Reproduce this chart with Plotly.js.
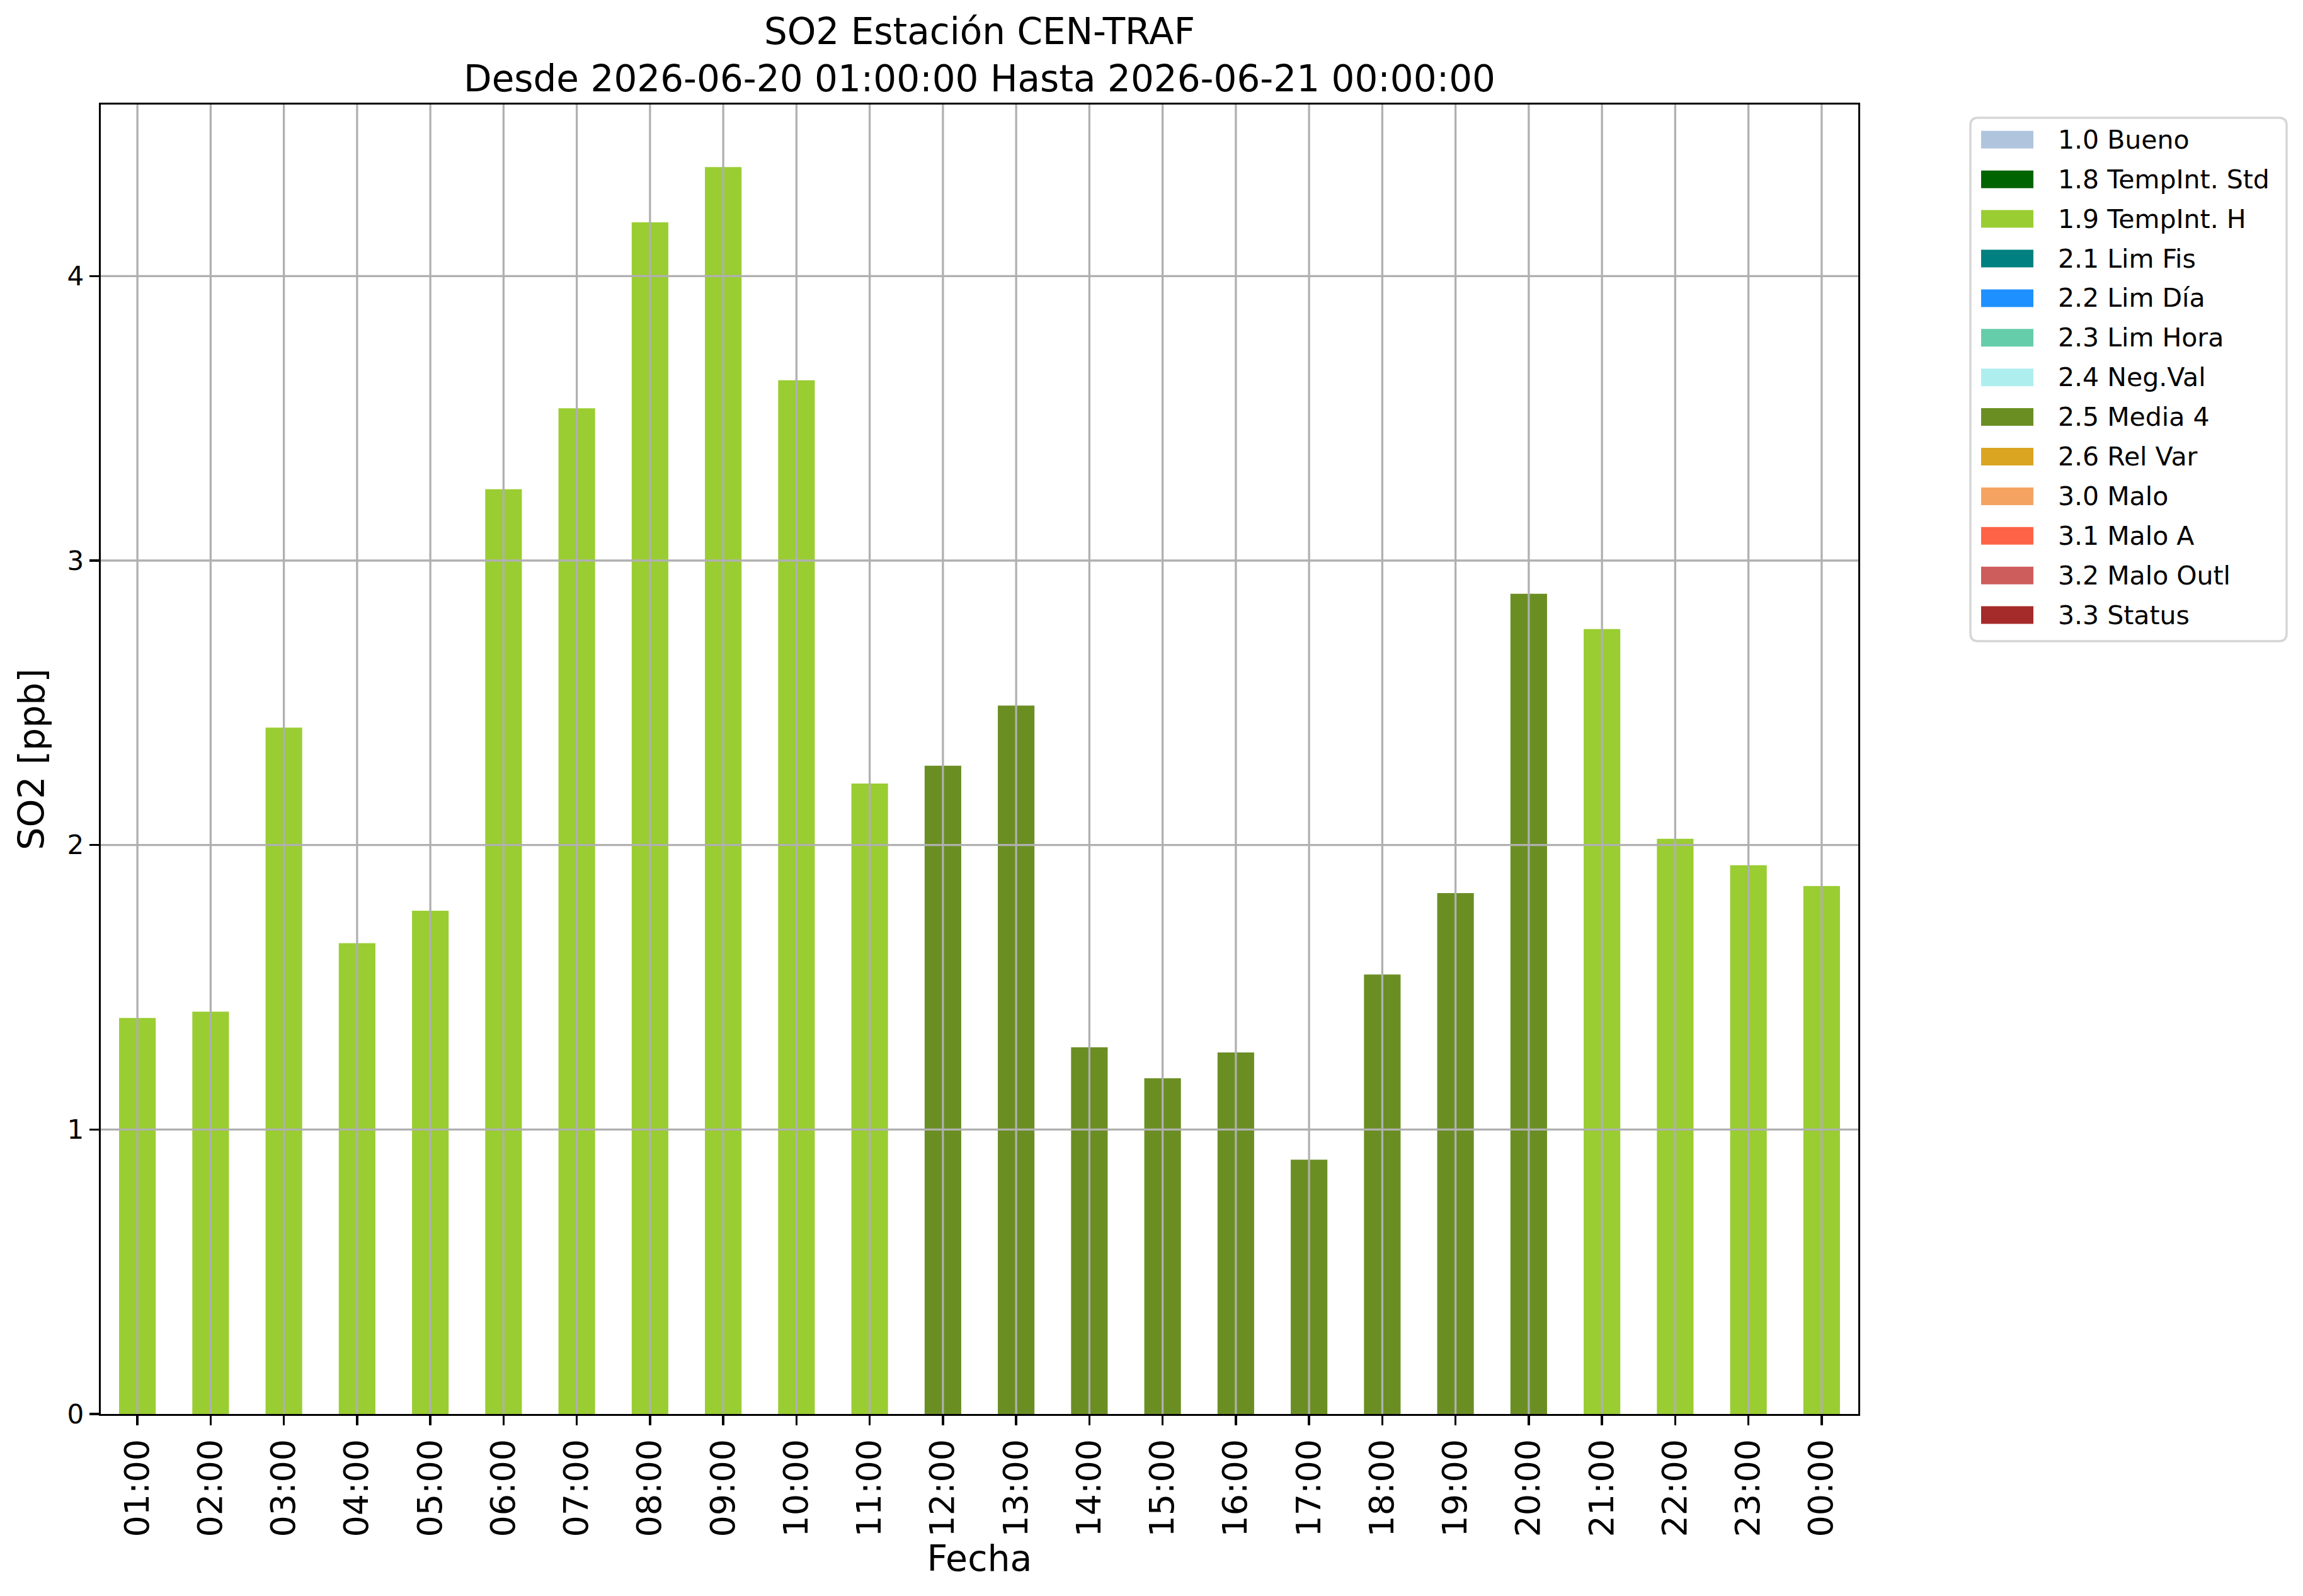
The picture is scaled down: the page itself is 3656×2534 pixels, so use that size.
<!DOCTYPE html>
<html>
<head>
<meta charset="utf-8">
<script src="https://cdn.plot.ly/plotly-3.0.1.min.js"></script>
<style>html,body{margin:0;padding:0;background:#fff;}#chart{width:3656px;height:2534px;}</style>
</head>
<body>
<div id="chart"></div>
<script>
// ---- data ----
const hours = ['01:00','02:00','03:00','04:00','05:00','06:00','07:00','08:00','09:00','10:00','11:00','12:00',
               '13:00','14:00','15:00','16:00','17:00','18:00','19:00','20:00','21:00','22:00','23:00','00:00'];
const so2 = [1.392,1.414,2.413,1.655,1.769,3.251,3.535,4.189,4.383,3.634,2.216,2.279,
             2.490,1.289,1.180,1.271,0.894,1.545,1.831,2.883,2.759,2.022,1.929,1.856];
const flags = ['1.9','1.9','1.9','1.9','1.9','1.9','1.9','1.9','1.9','1.9','1.9','2.5',
               '2.5','2.5','2.5','2.5','2.5','2.5','2.5','2.5','1.9','1.9','1.9','1.9'];
const flagCodes = ['1.0','1.8','1.9','2.1','2.2','2.3','2.4','2.5','2.6','3.0','3.1','3.2','3.3'];
const flagLabels = ['1.0 Bueno','1.8 TempInt. Std','1.9 TempInt. H','2.1 Lim Fis','2.2 Lim Día','2.3 Lim Hora',
                    '2.4 Neg.Val','2.5 Media 4','2.6 Rel Var','3.0 Malo','3.1 Malo A','3.2 Malo Outl','3.3 Status'];
const flagColors = ['#B0C4DE','#006400','#9ACD32','#008080','#1E90FF','#66CDAA','#AFEEEE','#6B8E23',
                    '#DAA520','#F4A460','#FF6347','#CD5C5C','#A52A2A'];
const yTicks = [0,1,2,3,4];
const titleText = 'SO2 Estación CEN-TRAF<br>Desde 2026-06-20 01:00:00 Hasta 2026-06-21 00:00:00';

// ---- geometry of the plot area (pixels) ----
const W = 3656, H = 2534;
const L = 160, R = 2950, T = 166, B = 2245;
const PW = R - L, PH = B - T;
const px = v => (v - L) / PW;
const py = v => (B - v) / PH;
const FONT = 'DejaVu Sans, Verdana, sans-serif';
const GRID = '#b0b0b0';

// ---- traces: one per flag ----
const traces = flagCodes.map((code, k) => ({
  type: 'bar',
  name: flagLabels[k],
  x: hours,
  y: so2.map((v, i) => flags[i] === code ? v : null),
  width: 0.5,
  marker: {color: flagColors[k], line: {width: 0}},
  showlegend: false,
  hoverinfo: 'x+y+name'
}));

// ---- grid lines drawn above bars (matplotlib style) ----
const shapes = [];
hours.forEach(h => shapes.push({type: 'line', xref: 'x', yref: 'paper', x0: h, x1: h, y0: 0, y1: 1,
  line: {color: GRID, width: 3.3}, layer: 'above'}));
yTicks.filter(t => t > 0).forEach(t => shapes.push({type: 'line', xref: 'paper', yref: 'y', x0: 0, x1: 1, y0: t, y1: t,
  line: {color: GRID, width: 3.3}, layer: 'above'}));

// ---- legend box ----
const bx0 = 3128, bx1 = 3630, by0 = 187, by1 = 1018, rr = 12;
const path = 'M' + px(bx0 + rr) + ',' + py(by0) +
  ' L' + px(bx1 - rr) + ',' + py(by0) +
  ' Q' + px(bx1) + ',' + py(by0) + ' ' + px(bx1) + ',' + py(by0 + rr) +
  ' L' + px(bx1) + ',' + py(by1 - rr) +
  ' Q' + px(bx1) + ',' + py(by1) + ' ' + px(bx1 - rr) + ',' + py(by1) +
  ' L' + px(bx0 + rr) + ',' + py(by1) +
  ' Q' + px(bx0) + ',' + py(by1) + ' ' + px(bx0) + ',' + py(by1 - rr) +
  ' L' + px(bx0) + ',' + py(by0 + rr) +
  ' Q' + px(bx0) + ',' + py(by0) + ' ' + px(bx0 + rr) + ',' + py(by0) + ' Z';
shapes.push({type: 'path', xref: 'paper', yref: 'paper', path: path,
  line: {color: '#d6d6d6', width: 3.5}, fillcolor: 'rgba(255,255,255,0.8)', layer: 'above'});

const annotations = [];
const rowY0 = 221.8, rowStep = 62.9;
flagLabels.forEach((lab, i) => {
  const cy = rowY0 + i * rowStep;
  shapes.push({type: 'rect', xref: 'paper', yref: 'paper',
    x0: px(3145), x1: px(3228), y0: py(cy + 14), y1: py(cy - 14),
    fillcolor: flagColors[i], line: {width: 0}, layer: 'above'});
  annotations.push({xref: 'paper', yref: 'paper', x: px(3265), y: py(cy), xanchor: 'left', yanchor: 'middle',
    text: lab, showarrow: false, font: {family: FONT, size: 41, color: '#000'}});
});

const layout = {
  width: W, height: H,
  margin: {l: L, r: W - R, t: T, b: H - B, pad: 0},
  paper_bgcolor: '#fff', plot_bgcolor: '#fff',
  font: {family: FONT, color: '#000'},
  barmode: 'overlay',
  showlegend: false,
  title: {text: titleText, font: {family: FONT, size: 58, color: '#000'},
          xref: 'paper', x: 0.5, xanchor: 'center', yref: 'container', y: 1 - 70 / H, yanchor: 'top'},
  xaxis: {
    type: 'category', categoryorder: 'array', categoryarray: hours, range: [-0.5, hours.length - 0.5],
    tickangle: -90, tickfont: {family: FONT, size: 54, color: '#000'},
    ticks: 'outside', ticklen: 15, tickwidth: 3.3, tickcolor: '#000',
    showline: true, linecolor: '#000', linewidth: 3.3, mirror: true,
    showgrid: false, zeroline: false, automargin: false, fixedrange: true,
    title: {text: 'Fecha', font: {family: FONT, size: 57, color: '#000'}, standoff: 10}
  },
  yaxis: {
    range: [0, 4.603], tickvals: yTicks, ticktext: yTicks.map(String),
    tickfont: {family: FONT, size: 42, color: '#000'},
    ticks: 'outside', ticklen: 15, tickwidth: 3.3, tickcolor: '#000',
    showline: true, linecolor: '#000', linewidth: 3.3, mirror: true,
    showgrid: false, zeroline: false, automargin: false, fixedrange: true,
    title: {text: 'SO2 [ppb]', font: {family: FONT, size: 57, color: '#000'}, standoff: 18}
  },
  shapes: shapes,
  annotations: annotations
};

Plotly.newPlot('chart', traces, layout, {displayModeBar: false, staticPlot: true});
</script>
</body>
</html>
